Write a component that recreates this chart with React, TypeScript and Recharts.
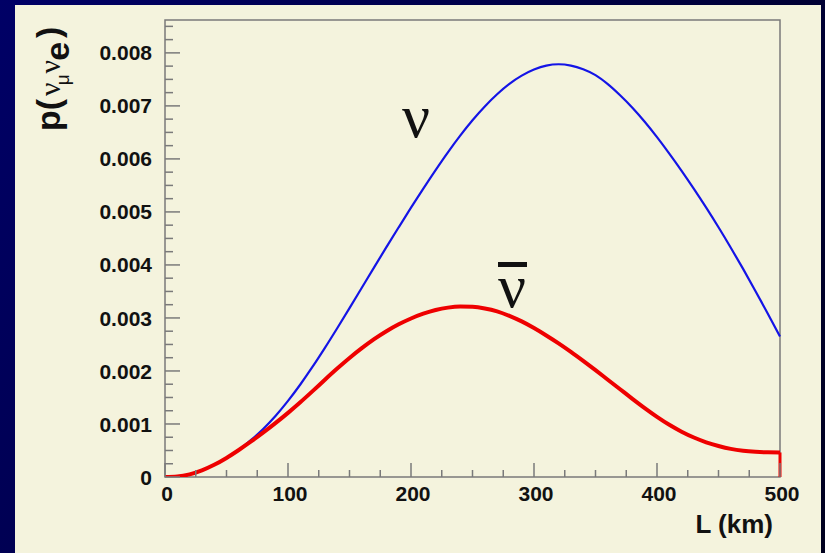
import React from "react";
import { LineChart, Line, XAxis, YAxis, ReferenceArea } from "recharts";

// distance in km
const distanceKm = [
  0, 10, 20, 30, 40, 50, 60, 70, 80, 90, 100, 110, 120, 130, 140, 150, 160, 170, 180, 190, 200,
  210, 220, 230, 240, 250, 260, 270, 280, 290, 300, 310, 320, 330, 340, 350, 360, 370, 380, 390,
  400, 410, 420, 430, 440, 450, 460, 470, 480, 490, 500,
];
// neutrino appearance probability (x 1e-3)
const nuProb = [
  0, 0.01, 0.05, 0.125, 0.23, 0.36, 0.51, 0.7, 0.91, 1.155, 1.435, 1.745, 2.08, 2.435, 2.805,
  3.185, 3.57, 3.955, 4.335, 4.71, 5.08, 5.44, 5.79, 6.125, 6.44, 6.73, 6.99, 7.22, 7.415, 7.57,
  7.685, 7.76, 7.785, 7.76, 7.69, 7.58, 7.41, 7.2, 6.965, 6.7, 6.41, 6.1, 5.775, 5.435, 5.08,
  4.71, 4.325, 3.925, 3.51, 3.085, 2.65,
];
// anti-neutrino appearance probability (x 1e-3)
const nuBarProb = [
  0, 0.01, 0.05, 0.125, 0.23, 0.36, 0.51, 0.67, 0.84, 1.02, 1.21, 1.41, 1.62, 1.835, 2.045,
  2.245, 2.43, 2.6, 2.75, 2.88, 2.99, 3.08, 3.15, 3.195, 3.215, 3.21, 3.18, 3.125, 3.04, 2.935,
  2.81, 2.67, 2.52, 2.36, 2.19, 2.015, 1.835, 1.655, 1.475, 1.3, 1.135, 0.985, 0.855, 0.745,
  0.655, 0.585, 0.53, 0.495, 0.475, 0.465, 0.463,
];
const xTicks = [
  0, 25, 50, 75, 100, 125, 150, 175, 200, 225, 250, 275, 300, 325, 350, 375, 400, 425, 450, 475, 500,
];
const xMajor = [0, 100, 200, 300, 400, 500];
const yTicks = [
  0, 0.00025, 0.0005, 0.00075, 0.001, 0.00125, 0.0015, 0.00175, 0.002, 0.00225, 0.0025, 0.00275,
  0.003, 0.00325, 0.0035, 0.00375, 0.004, 0.00425, 0.0045, 0.00475, 0.005, 0.00525, 0.0055,
  0.00575, 0.006, 0.00625, 0.0065, 0.00675, 0.007, 0.00725, 0.0075, 0.00775, 0.008, 0.00825, 0.0085,
];
const yMajorLabels = ["0", "0.001", "0.002", "0.003", "0.004", "0.005", "0.006", "0.007", "0.008"];
const yMax = 0.00862;

const nuData = distanceKm.map((L, i) => ({ L, p: nuProb[i] / 1000 }));
const nuBarData = distanceKm.map((L, i) => ({ L, p: nuBarProb[i] / 1000 }));
const nuBarEdge = [
  { L: 500, p: nuBarProb[nuBarProb.length - 1] / 1000 },
  { L: 500, p: 0 },
];

const FONT = "'Liberation Sans', Arial, Helvetica, sans-serif";
const AX = "#7a7a7a";

const XTick = (props: any) => {
  const { x, y, payload } = props;
  const v = payload.value;
  const major = xMajor.includes(v);
  return (
    <g>
      <line x1={x} x2={x} y1={y} y2={y - (major ? 14 : 7)} stroke={AX} strokeWidth={1.5} />
      {major && (
        <text x={x + 2} y={y + 24} textAnchor="middle" fontFamily={FONT} fontWeight="bold" fontSize={21} fill="#111">
          {String(v)}
        </text>
      )}
    </g>
  );
};

const YTick = (props: any) => {
  const { x, y, payload } = props;
  const v = payload.value;
  const idx = Math.round(v / 0.00025);
  const major = idx % 4 === 0;
  return (
    <g>
      <line x1={x} x2={x + (major ? 15 : 8)} y1={y} y2={y} stroke={AX} strokeWidth={1.5} />
      {major && (
        <text x={x - 13} y={y} dy="0.36em" textAnchor="end" fontFamily={FONT} fontWeight="bold" fontSize={21} fill="#111">
          {yMajorLabels[idx / 4]}
        </text>
      )}
    </g>
  );
};

export default function App() {
  return (
    <div
      style={{
        position: "fixed",
        left: 0,
        top: 0,
        width: 825,
        height: 553,
        background: "linear-gradient(120deg, #000066 0%, #000048 45%, #00001e 100%)",
        overflow: "hidden",
      }}
    >
      <div
        style={{
          position: "absolute",
          left: 15,
          top: 5,
          width: 806,
          height: 548,
          background: "#f4f3dd",
        }}
      />
      <div style={{ position: "absolute", left: 0, top: 0 }}>
        <LineChart width={825} height={553} margin={{ top: 20, right: 45, bottom: 0, left: 0 }}>
          <XAxis
            dataKey="L"
            type="number"
            domain={[0, 500]}
            ticks={xTicks}
            interval={0}
            tickSize={0}
            tickMargin={0}
            tickLine={false}
            axisLine={false}
            tick={<XTick />}
            height={76}
            allowDuplicatedCategory={false}
          />
          <YAxis
            type="number"
            domain={[0, yMax]}
            ticks={yTicks}
            interval={0}
            tickSize={0}
            tickMargin={0}
            tickLine={false}
            axisLine={false}
            tick={<YTick />}
            width={165}
            allowDataOverflow
          />
          <ReferenceArea x1={0} x2={500} y1={0} y2={yMax} fill="none" stroke={AX} strokeWidth={1.5} ifOverflow="visible" />
          <Line data={nuData} dataKey="p" type="monotone" stroke="#1414e6" strokeWidth={2.2} dot={false} isAnimationActive={false} />
          <Line data={nuBarData} dataKey="p" type="monotone" stroke="#ee0000" strokeWidth={4} dot={false} isAnimationActive={false} />
          <Line data={nuBarEdge} dataKey="p" type="linear" stroke="#ee0000" strokeWidth={3} dot={false} isAnimationActive={false} />
        </LineChart>
      </div>
      <svg width={825} height={553} style={{ position: "absolute", left: 0, top: 0, pointerEvents: "none" }}>
        <text x={773} y={533} textAnchor="end" fontFamily={FONT} fontWeight="bold" fontSize={26} fill="#111">
          L (km)
        </text>
        <text transform="translate(60,131) rotate(-90)" fontFamily={FONT} fontWeight="bold" fontSize={34} fill="#111">
          <tspan>p(</tspan>
          <tspan fontSize={30} fontWeight="normal" fontFamily="'Liberation Serif', serif" dx={3}>ν</tspan>
          <tspan fontSize={19} fontWeight="normal" dy={9} dx={-3}>μ</tspan>
          <tspan fontSize={30} fontWeight="normal" fontFamily="'Liberation Serif', serif" dy={-9} dx={1}>ν</tspan>
          <tspan fontSize={34} dy={9} dx={-1}>e</tspan>
          <tspan fontSize={34} dy={-9} dx={4}>)</tspan>
        </text>
        <text x={416} y={137} textAnchor="middle" fontFamily="'Liberation Serif', 'DejaVu Serif', serif" fontSize={62} fill="#111">
          ν
        </text>
        <rect x={498} y={262} width={29} height={5} fill="#111" />
        <text x={512} y={307} textAnchor="middle" fontFamily="'Liberation Serif', 'DejaVu Serif', serif" fontSize={62} fill="#111">
          ν
        </text>
      </svg>
    </div>
  );
}
